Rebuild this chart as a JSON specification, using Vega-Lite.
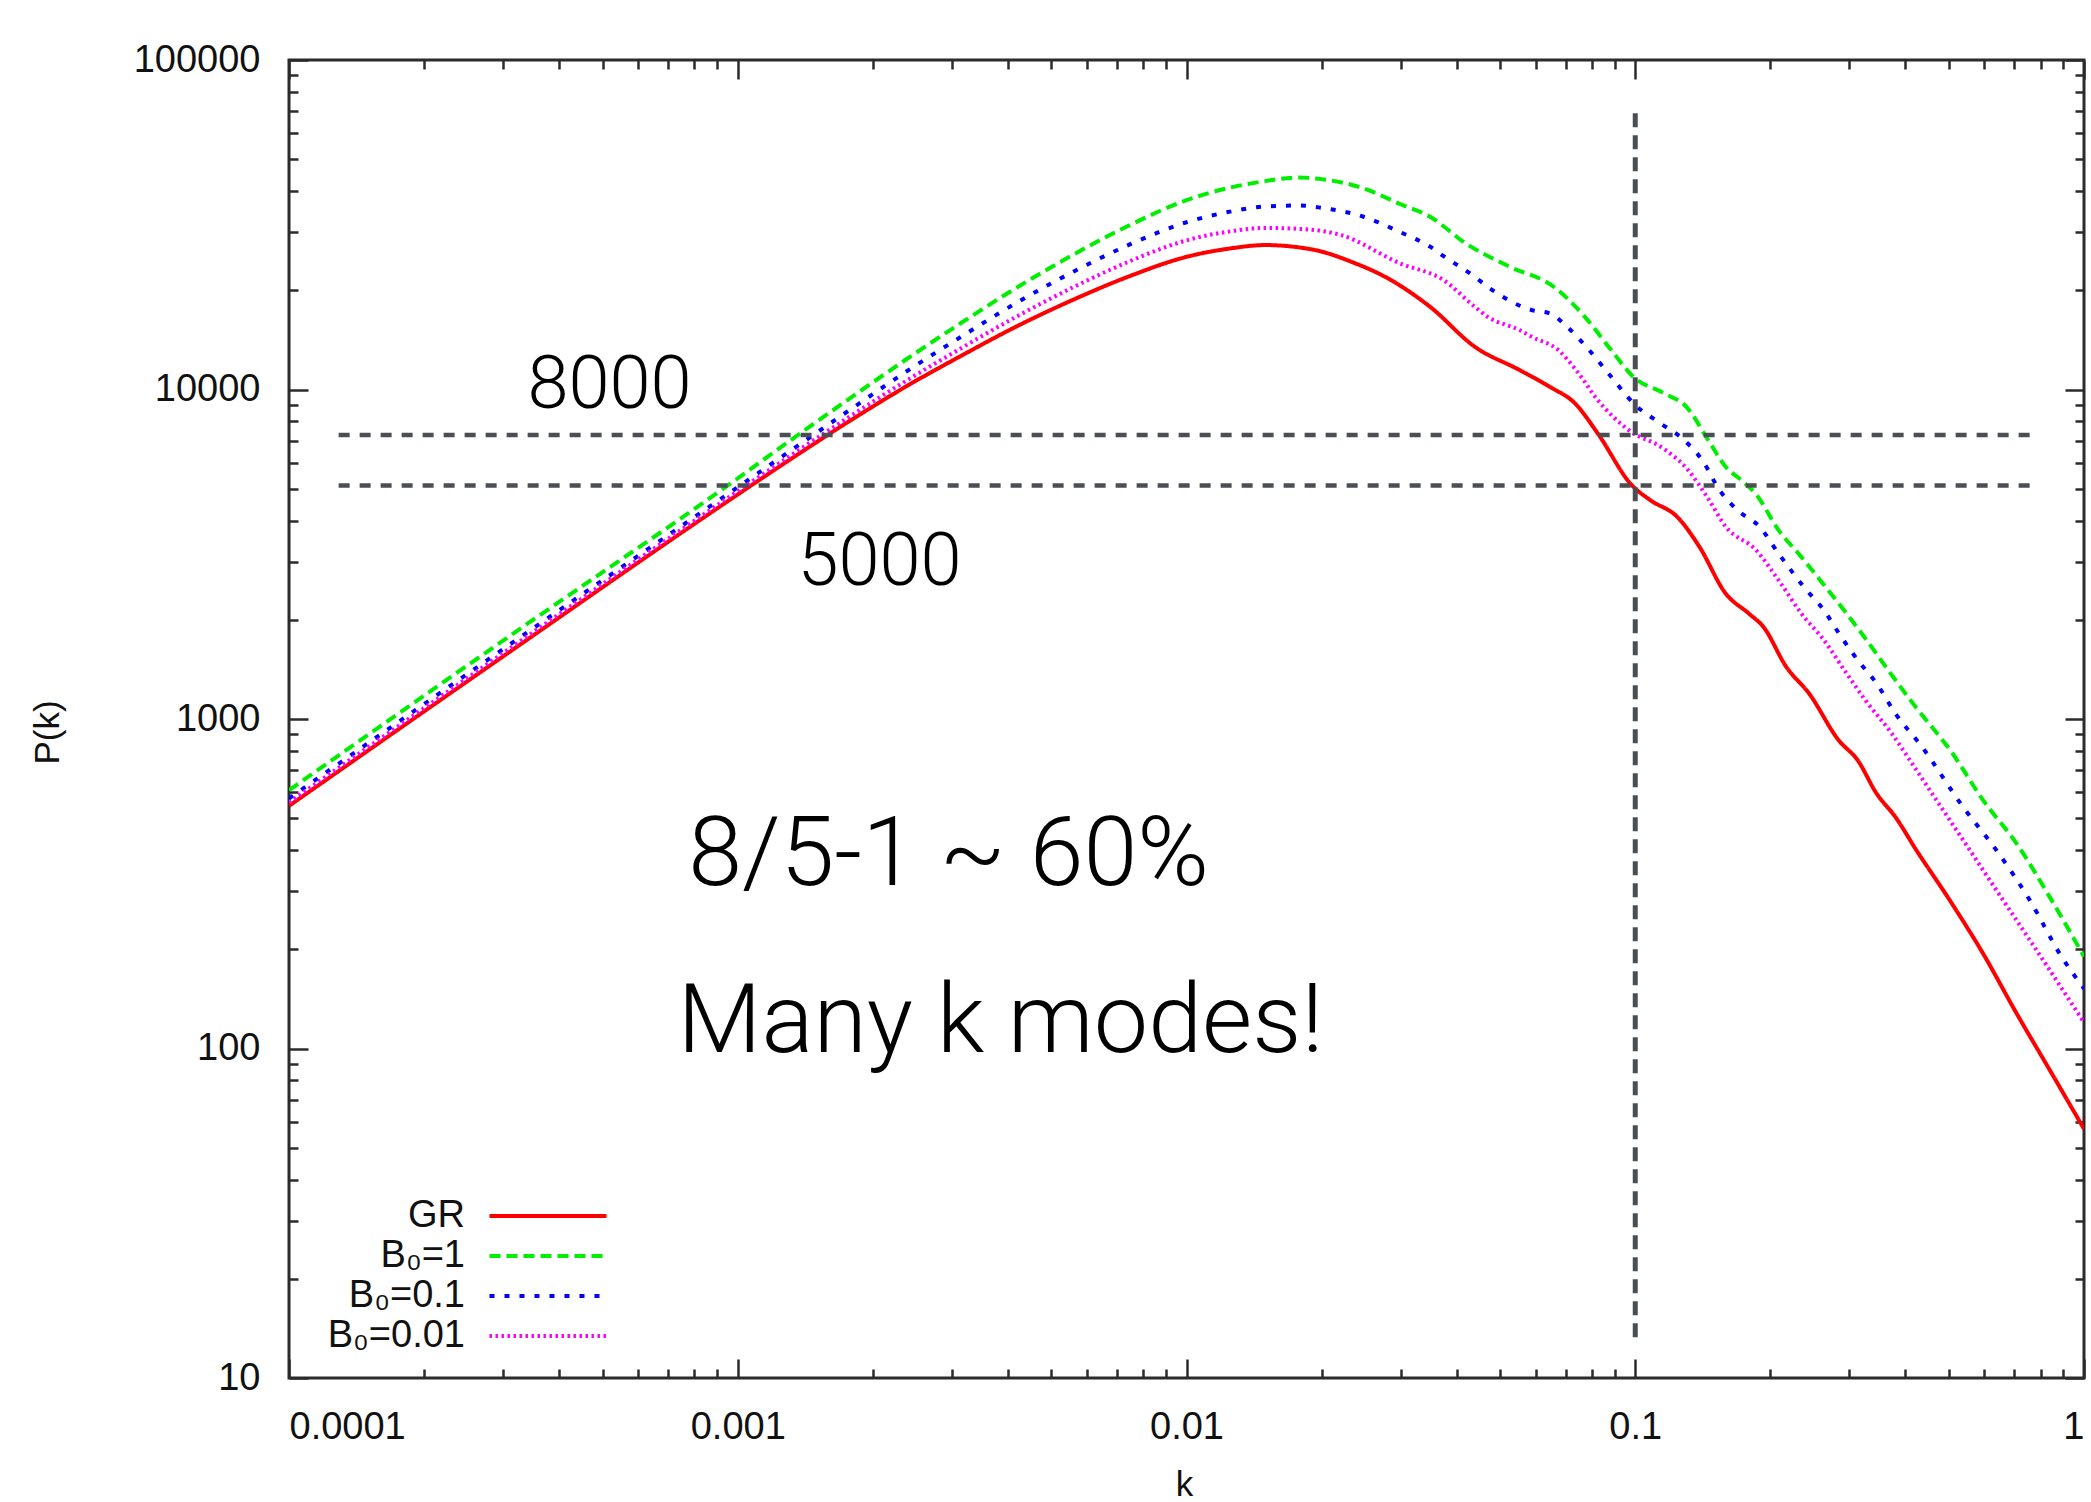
{
  "$schema": "https://vega.github.io/schema/vega-lite/v6.json",
  "width": 1795,
  "height": 1318,
  "autosize": {"type": "none"},
  "padding": {"left": 289, "top": 60, "right": 7, "bottom": 124},
  "background": "#ffffff",
  "config": {
    "view": {"stroke": "#2b2b2b", "strokeWidth": 3},
    "axis": {
      "grid": false,
      "domain": false,
      "tickColor": "#2b2b2b",
      "tickWidth": 2.5,
      "labelFont": "Liberation Sans",
      "labelFontSize": 38,
      "labelColor": "#111111",
      "titleFont": "Liberation Sans",
      "titleFontSize": 35,
      "titleFontWeight": "normal",
      "titleColor": "#111111",
      "format": "~g"
    },
    "legend": {
      "orient": "none",
      "legendX": 240,
      "legendY": 1137,
      "title": null,
      "symbolType": "M-5,0H5",
      "symbolSize": 548,
      "symbolStrokeWidth": 4,
      "labelAlign": "right",
      "labelOffset": -102,
      "labelFont": "Liberation Sans",
      "labelFontSize": 38,
      "labelColor": "#111111",
      "rowPadding": 2,
      "padding": 0
    }
  },
  "datasets": {
    "curves": [
      {"k": 0.0001, "P": 545, "s": "GR"}, {"k": 0.000316, "P": 1627, "s": "GR"}, {"k": 0.001, "P": 4802, "s": "GR"}, {"k": 0.001334, "P": 6240, "s": "GR"}, {"k": 0.001778, "P": 8036, "s": "GR"}, {"k": 0.002371, "P": 10210, "s": "GR"}, {"k": 0.003162, "P": 12700, "s": "GR"}, {"k": 0.004217, "P": 15630, "s": "GR"}, {"k": 0.005623, "P": 18790, "s": "GR"}, {"k": 0.007499, "P": 22130, "s": "GR"}, {"k": 0.01, "P": 25270, "s": "GR"}, {"k": 0.01259, "P": 26830, "s": "GR"}, {"k": 0.01496, "P": 27440, "s": "GR"}, {"k": 0.01778, "P": 27000, "s": "GR"}, {"k": 0.0197, "P": 26350, "s": "GR"}, {"k": 0.0235, "P": 24300, "s": "GR"}, {"k": 0.0277, "P": 21980, "s": "GR"}, {"k": 0.0349, "P": 17820, "s": "GR"}, {"k": 0.0439, "P": 13480, "s": "GR"}, {"k": 0.0552, "P": 11460, "s": "GR"}, {"k": 0.0645, "P": 10190, "s": "GR"}, {"k": 0.0734, "P": 9075, "s": "GR"}, {"k": 0.0825, "P": 7357, "s": "GR"}, {"k": 0.0982, "P": 5126, "s": "GR"}, {"k": 0.108, "P": 4616, "s": "GR"}, {"k": 0.124, "P": 4107, "s": "GR"}, {"k": 0.139, "P": 3331, "s": "GR"}, {"k": 0.159, "P": 2404, "s": "GR"}, {"k": 0.179, "P": 2091, "s": "GR"}, {"k": 0.193, "P": 1904, "s": "GR"}, {"k": 0.217, "P": 1440, "s": "GR"}, {"k": 0.244, "P": 1195, "s": "GR"}, {"k": 0.284, "P": 862, "s": "GR"}, {"k": 0.313, "P": 750, "s": "GR"}, {"k": 0.345, "P": 594, "s": "GR"}, {"k": 0.38, "P": 504, "s": "GR"}, {"k": 0.423, "P": 400, "s": "GR"}, {"k": 0.502, "P": 282, "s": "GR"}, {"k": 0.596, "P": 194, "s": "GR"}, {"k": 0.707, "P": 128, "s": "GR"}, {"k": 0.839, "P": 86, "s": "GR"}, {"k": 1, "P": 57, "s": "GR"},

      {"k": 0.0001, "P": 608, "s": "B₀=1"}, {"k": 0.000316, "P": 1817, "s": "B₀=1"}, {"k": 0.001, "P": 5375, "s": "B₀=1"}, {"k": 0.001334, "P": 7133, "s": "B₀=1"}, {"k": 0.001778, "P": 9402, "s": "B₀=1"}, {"k": 0.002371, "P": 12330, "s": "B₀=1"}, {"k": 0.003162, "P": 15995, "s": "B₀=1"}, {"k": 0.004217, "P": 20510, "s": "B₀=1"}, {"k": 0.005623, "P": 25760, "s": "B₀=1"}, {"k": 0.007499, "P": 31620, "s": "B₀=1"}, {"k": 0.01, "P": 37540, "s": "B₀=1"}, {"k": 0.01259, "P": 41070, "s": "B₀=1"}, {"k": 0.01496, "P": 42890, "s": "B₀=1"}, {"k": 0.01778, "P": 44000, "s": "B₀=1"}, {"k": 0.02, "P": 43500, "s": "B₀=1"}, {"k": 0.0248, "P": 40780, "s": "B₀=1"}, {"k": 0.03, "P": 36500, "s": "B₀=1"}, {"k": 0.0349, "P": 33440, "s": "B₀=1"}, {"k": 0.0419, "P": 27770, "s": "B₀=1"}, {"k": 0.0525, "P": 23580, "s": "B₀=1"}, {"k": 0.0658, "P": 20500, "s": "B₀=1"}, {"k": 0.0772, "P": 16620, "s": "B₀=1"}, {"k": 0.0884, "P": 13170, "s": "B₀=1"}, {"k": 0.099, "P": 10930, "s": "B₀=1"}, {"k": 0.116, "P": 9730, "s": "B₀=1"}, {"k": 0.13, "P": 8860, "s": "B₀=1"}, {"k": 0.1454, "P": 7020, "s": "B₀=1"}, {"k": 0.159, "P": 5826, "s": "B₀=1"}, {"k": 0.174, "P": 5250, "s": "B₀=1"}, {"k": 0.186, "P": 4800, "s": "B₀=1"}, {"k": 0.2086, "P": 3743, "s": "B₀=1"}, {"k": 0.2344, "P": 3105, "s": "B₀=1"}, {"k": 0.2582, "P": 2639, "s": "B₀=1"}, {"k": 0.2957, "P": 2091, "s": "B₀=1"}, {"k": 0.3196, "P": 1818, "s": "B₀=1"}, {"k": 0.3728, "P": 1360, "s": "B₀=1"}, {"k": 0.4188, "P": 1100, "s": "B₀=1"}, {"k": 0.508, "P": 790, "s": "B₀=1"}, {"k": 0.5957, "P": 567, "s": "B₀=1"}, {"k": 0.7072, "P": 419, "s": "B₀=1"}, {"k": 0.8389, "P": 288, "s": "B₀=1"}, {"k": 1, "P": 190, "s": "B₀=1"},

      {"k": 0.0001, "P": 574, "s": "B₀=0.1"}, {"k": 0.000316, "P": 1712, "s": "B₀=0.1"}, {"k": 0.001, "P": 5052, "s": "B₀=0.1"}, {"k": 0.001334, "P": 6626, "s": "B₀=0.1"}, {"k": 0.001778, "P": 8673, "s": "B₀=0.1"}, {"k": 0.002371, "P": 11320, "s": "B₀=0.1"}, {"k": 0.003162, "P": 14520, "s": "B₀=0.1"}, {"k": 0.004217, "P": 18450, "s": "B₀=0.1"}, {"k": 0.005623, "P": 22860, "s": "B₀=0.1"}, {"k": 0.007499, "P": 27610, "s": "B₀=0.1"}, {"k": 0.01, "P": 32180, "s": "B₀=0.1"}, {"k": 0.01259, "P": 34720, "s": "B₀=0.1"}, {"k": 0.01496, "P": 35920, "s": "B₀=0.1"}, {"k": 0.01778, "P": 36180, "s": "B₀=0.1"}, {"k": 0.02, "P": 35600, "s": "B₀=0.1"}, {"k": 0.0248, "P": 33440, "s": "B₀=0.1"}, {"k": 0.03, "P": 30000, "s": "B₀=0.1"}, {"k": 0.0349, "P": 27130, "s": "B₀=0.1"}, {"k": 0.0374, "P": 25400, "s": "B₀=0.1"}, {"k": 0.0439, "P": 21980, "s": "B₀=0.1"}, {"k": 0.0469, "P": 20500, "s": "B₀=0.1"}, {"k": 0.0588, "P": 17420, "s": "B₀=0.1"}, {"k": 0.0645, "P": 17020, "s": "B₀=0.1"}, {"k": 0.0705, "P": 15500, "s": "B₀=0.1"}, {"k": 0.0789, "P": 13170, "s": "B₀=0.1"}, {"k": 0.0884, "P": 10930, "s": "B₀=0.1"}, {"k": 0.1, "P": 8970, "s": "B₀=0.1"}, {"k": 0.1124, "P": 7980, "s": "B₀=0.1"}, {"k": 0.1285, "P": 7020, "s": "B₀=0.1"}, {"k": 0.1418, "P": 6033, "s": "B₀=0.1"}, {"k": 0.1532, "P": 5010, "s": "B₀=0.1"}, {"k": 0.1688, "P": 4305, "s": "B₀=0.1"}, {"k": 0.1894, "P": 3830, "s": "B₀=0.1"}, {"k": 0.2086, "P": 3180, "s": "B₀=0.1"}, {"k": 0.239, "P": 2490, "s": "B₀=0.1"}, {"k": 0.2633, "P": 2139, "s": "B₀=0.1"}, {"k": 0.2844, "P": 1818, "s": "B₀=0.1"}, {"k": 0.3133, "P": 1508, "s": "B₀=0.1"}, {"k": 0.345, "P": 1282, "s": "B₀=0.1"}, {"k": 0.38, "P": 1039, "s": "B₀=0.1"}, {"k": 0.4355, "P": 823, "s": "B₀=0.1"}, {"k": 0.5375, "P": 541, "s": "B₀=0.1"}, {"k": 0.6378, "P": 400, "s": "B₀=0.1"}, {"k": 0.757, "P": 282, "s": "B₀=0.1"}, {"k": 0.891, "P": 190, "s": "B₀=0.1"}, {"k": 1, "P": 152, "s": "B₀=0.1"},

      {"k": 0.0001, "P": 558, "s": "B₀=0.01"}, {"k": 0.000316, "P": 1665, "s": "B₀=0.01"}, {"k": 0.001, "P": 4914, "s": "B₀=0.01"}, {"k": 0.001334, "P": 6400, "s": "B₀=0.01"}, {"k": 0.001778, "P": 8283, "s": "B₀=0.01"}, {"k": 0.002371, "P": 10620, "s": "B₀=0.01"}, {"k": 0.003162, "P": 13400, "s": "B₀=0.01"}, {"k": 0.004217, "P": 16750, "s": "B₀=0.01"}, {"k": 0.005623, "P": 20510, "s": "B₀=0.01"}, {"k": 0.007499, "P": 24550, "s": "B₀=0.01"}, {"k": 0.01, "P": 28350, "s": "B₀=0.01"}, {"k": 0.01259, "P": 30230, "s": "B₀=0.01"}, {"k": 0.01496, "P": 30930, "s": "B₀=0.01"}, {"k": 0.01778, "P": 30730, "s": "B₀=0.01"}, {"k": 0.02, "P": 30300, "s": "B₀=0.01"}, {"k": 0.0221, "P": 29420, "s": "B₀=0.01"}, {"k": 0.0299, "P": 24150, "s": "B₀=0.01"}, {"k": 0.0374, "P": 21480, "s": "B₀=0.01"}, {"k": 0.0439, "P": 17820, "s": "B₀=0.01"}, {"k": 0.0469, "P": 16620, "s": "B₀=0.01"}, {"k": 0.0552, "P": 15150, "s": "B₀=0.01"}, {"k": 0.0588, "P": 14450, "s": "B₀=0.01"}, {"k": 0.0674, "P": 13170, "s": "B₀=0.01"}, {"k": 0.0738, "P": 11460, "s": "B₀=0.01"}, {"k": 0.0825, "P": 9286, "s": "B₀=0.01"}, {"k": 0.0967, "P": 7528, "s": "B₀=0.01"}, {"k": 0.116, "P": 6600, "s": "B₀=0.01"}, {"k": 0.1312, "P": 5692, "s": "B₀=0.01"}, {"k": 0.1445, "P": 4724, "s": "B₀=0.01"}, {"k": 0.1592, "P": 3830, "s": "B₀=0.01"}, {"k": 0.1859, "P": 3253, "s": "B₀=0.01"}, {"k": 0.2086, "P": 2639, "s": "B₀=0.01"}, {"k": 0.2344, "P": 2091, "s": "B₀=0.01"}, {"k": 0.2633, "P": 1735, "s": "B₀=0.01"}, {"k": 0.2957, "P": 1375, "s": "B₀=0.01"}, {"k": 0.3257, "P": 1140, "s": "B₀=0.01"}, {"k": 0.3728, "P": 904, "s": "B₀=0.01"}, {"k": 0.4188, "P": 715, "s": "B₀=0.01"}, {"k": 0.4692, "P": 567, "s": "B₀=0.01"}, {"k": 0.5565, "P": 400, "s": "B₀=0.01"}, {"k": 0.66, "P": 282, "s": "B₀=0.01"}, {"k": 0.7834, "P": 199, "s": "B₀=0.01"}, {"k": 1, "P": 120, "s": "B₀=0.01"}
    ],
    "hlines": [
      {"k1": 0.000129, "k2": 0.781, "P": 7270},
      {"k1": 0.000129, "k2": 0.781, "P": 5110}
    ],
    "vline": [
      {"k": 0.1, "P1": 13.3, "P2": 70500}
    ],
    "smalltext": [
      {"t": "8000", "k": 0.000518, "P": 8780},
      {"t": "5000", "k": 0.00207, "P": 2547}
    ],
    "bigtext": [
      {"t": "8/5-1 ~ 60%", "k": 0.00295, "P": 313},
      {"t": "Many k modes!", "k": 0.00385, "P": 97.4}
    ]
  },
  "layer": [
    {
      "data": {"name": "curves"},
      "mark": {"type": "line", "strokeWidth": 4, "clip": true, "interpolate": "monotone"},
      "encoding": {
        "x": {
          "field": "k", "type": "quantitative",
          "scale": {"type": "log", "domain": [0.0001, 1], "nice": false},
          "axis": {"orient": "bottom", "values": [0.0001, 0.001, 0.01, 0.1, 1], "tickSize": -19, "labelPadding": 49,
                   "title": "k", "titleX": 895, "titleY": 117, "titleAlign": "center", "titleBaseline": "alphabetic"}
        },
        "y": {
          "field": "P", "type": "quantitative",
          "scale": {"type": "log", "domain": [10, 100000], "nice": false},
          "axis": {"orient": "left", "values": [10, 100, 1000, 10000, 100000], "tickSize": -19, "labelPadding": 48,
                   "title": "P(k)", "titleX": -242, "titleY": 672, "titleAngle": 270, "titleAlign": "center", "titleBaseline": "middle"}
        },
        "color": {
          "field": "s", "type": "nominal",
          "scale": {"domain": ["GR", "B₀=1", "B₀=0.1", "B₀=0.01"], "range": ["#ff0000", "#00ee00", "#0000ff", "#ff00ff"]},
          "legend": {"title": null}
        },
        "strokeDash": {
          "field": "s", "type": "nominal",
          "scale": {"domain": ["GR", "B₀=1", "B₀=0.1", "B₀=0.01"], "range": [[1, 0], [11, 6], [5, 10], [2.5, 3.5]]},
          "legend": {"title": null}
        }
      }
    },
    {
      "data": {"name": "hlines"},
      "mark": {"type": "rule", "color": "#4b4f55", "strokeWidth": 4.5, "strokeDash": [11, 10]},
      "encoding": {
        "x": {"field": "k1", "type": "quantitative", "scale": {"type": "log", "domain": [0.0001, 1], "nice": false},
              "axis": {"orient": "bottom", "values": [0.0002,0.0003,0.0004,0.0005,0.0006,0.0007,0.0008,0.0009,0.002,0.003,0.004,0.005,0.006,0.007,0.008,0.009,0.02,0.03,0.04,0.05,0.06,0.07,0.08,0.09,0.2,0.3,0.4,0.5,0.6,0.7,0.8,0.9], "tickSize": -9, "labels": false, "title": null}},
        "x2": {"field": "k2"},
        "y": {"field": "P", "type": "quantitative", "scale": {"type": "log", "domain": [10, 100000], "nice": false},
              "axis": {"orient": "left", "values": [20,30,40,50,60,70,80,90,200,300,400,500,600,700,800,900,2000,3000,4000,5000,6000,7000,8000,9000,20000,30000,40000,50000,60000,70000,80000,90000], "tickSize": -9, "labels": false, "title": null}}
      }
    },
    {
      "data": {"name": "vline"},
      "mark": {"type": "rule", "color": "#4b4f55", "strokeWidth": 5, "strokeDash": [14, 8]},
      "encoding": {
        "x": {"field": "k", "type": "quantitative", "scale": {"type": "log", "domain": [0.0001, 1], "nice": false},
              "axis": {"orient": "top", "values": [0.0001, 0.001, 0.01, 0.1, 1], "tickSize": -19, "labels": false, "title": null}},
        "y": {"field": "P1", "type": "quantitative", "scale": {"type": "log", "domain": [10, 100000], "nice": false},
              "axis": {"orient": "right", "values": [10, 100, 1000, 10000, 100000], "tickSize": -19, "labels": false, "title": null}},
        "y2": {"field": "P2"}
      }
    },
    {
      "data": {"name": "smalltext"},
      "mark": {"type": "text", "font": "Roboto", "fontWeight": 300, "fontSize": 74, "align": "center", "baseline": "alphabetic", "color": "#000000"},
      "encoding": {
        "x": {"field": "k", "type": "quantitative", "scale": {"type": "log", "domain": [0.0001, 1], "nice": false},
              "axis": {"orient": "top", "values": [0.0002,0.0003,0.0004,0.0005,0.0006,0.0007,0.0008,0.0009,0.002,0.003,0.004,0.005,0.006,0.007,0.008,0.009,0.02,0.03,0.04,0.05,0.06,0.07,0.08,0.09,0.2,0.3,0.4,0.5,0.6,0.7,0.8,0.9], "tickSize": -9, "labels": false, "title": null}},
        "y": {"field": "P", "type": "quantitative", "scale": {"type": "log", "domain": [10, 100000], "nice": false},
              "axis": {"orient": "right", "values": [20,30,40,50,60,70,80,90,200,300,400,500,600,700,800,900,2000,3000,4000,5000,6000,7000,8000,9000,20000,30000,40000,50000,60000,70000,80000,90000], "tickSize": -9, "labels": false, "title": null}},
        "text": {"field": "t"}
      }
    },
    {
      "data": {"name": "bigtext"},
      "mark": {"type": "text", "font": "Roboto", "fontWeight": 300, "fontSize": 97, "align": "center", "baseline": "alphabetic", "color": "#000000"},
      "encoding": {
        "x": {"field": "k", "type": "quantitative", "scale": {"type": "log", "domain": [0.0001, 1], "nice": false}, "axis": null},
        "y": {"field": "P", "type": "quantitative", "scale": {"type": "log", "domain": [10, 100000], "nice": false}, "axis": null},
        "text": {"field": "t"}
      }
    }
  ],
  "resolve": {"axis": {"x": "independent", "y": "independent"}}
}
